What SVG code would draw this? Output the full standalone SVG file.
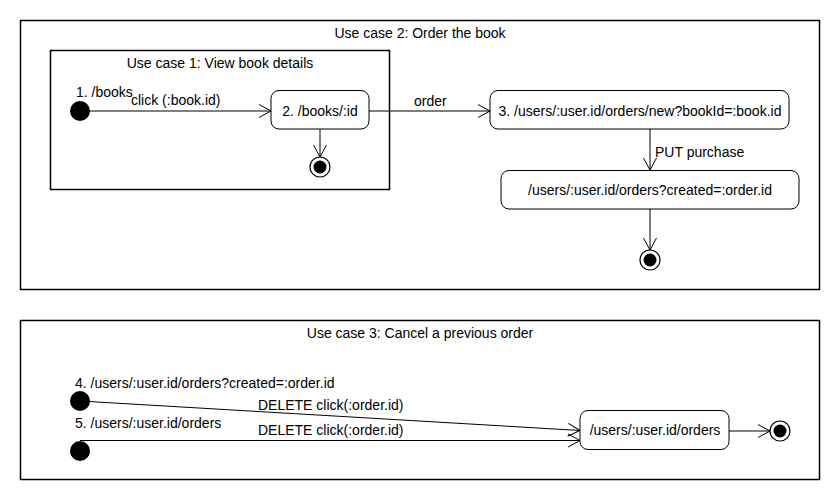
<svg xmlns="http://www.w3.org/2000/svg" width="840" height="500" viewBox="0 0 840 500">
<style>
text{font-family:"Liberation Sans",Arial,sans-serif;font-size:14px;fill:#000}
.c{text-anchor:middle}
.frame{fill:none;stroke:#000;stroke-width:1.5}
.node{fill:#fff;stroke:#000;stroke-width:1}
.edge{fill:none;stroke:#000;stroke-width:1;marker-end:url(#arr)}
.init{fill:#000}
.fo{fill:#fff;stroke:#000;stroke-width:1.2}
.fi{fill:#000}
</style>
<defs>
<marker id="arr" markerUnits="userSpaceOnUse" markerWidth="14" markerHeight="15" refX="12" refY="7" orient="auto" overflow="visible">
<path d="M0,0.5 L12,7 L0,13.5" fill="none" stroke="#000" stroke-width="1"/>
</marker>
</defs>
<rect width="840" height="500" fill="#fff"/>
<g id="uc2">
<rect class="frame" x="20.5" y="20.5" width="799" height="269"/>
<text class="c" x="420" y="38">Use case 2: Order the book</text>
</g>
<g id="uc1">
<rect class="frame" x="50.5" y="50.5" width="339" height="139"/>
<text class="c" x="220" y="68">Use case 1: View book details</text>
</g>
<g id="uc3">
<rect class="frame" x="20.5" y="320.5" width="799" height="159"/>
<text class="c" x="420" y="338">Use case 3: Cancel a previous order</text>
</g>
<g id="connectors">
<line class="edge" x1="80" y1="111" x2="271" y2="111"/>
<line class="edge" x1="320" y1="129" x2="320" y2="157"/>
<line class="edge" x1="369" y1="111" x2="490" y2="111"/>
<line class="edge" x1="650" y1="129" x2="650" y2="170"/>
<line class="edge" x1="650" y1="209" x2="650" y2="250"/>
<line class="edge" x1="80" y1="401" x2="580" y2="430.5"/>
<line class="edge" x1="80" y1="440.5" x2="580" y2="440.5"/>
<line class="edge" x1="729" y1="431" x2="770" y2="431"/>
<text x="131" y="105">click (:book.id)</text>
<text x="414" y="106">order</text>
<text x="655" y="157">PUT purchase</text>
<text x="258" y="410">DELETE click(:order.id)</text>
<text x="258" y="435">DELETE click(:order.id)</text>
</g>
<g id="start1">
<circle class="init" cx="80" cy="111" r="10"/>
<text x="76" y="97">1. /books</text>
</g>
<g id="node2">
<rect class="node" x="271" y="90.5" width="98" height="38.5" rx="8"/>
<text class="c" x="320" y="116">2. /books/:id</text>
</g>
<g id="end1">
<circle class="fo" cx="320" cy="167" r="10"/>
<circle class="fi" cx="320" cy="167" r="6.5"/>
</g>
<g id="node3">
<rect class="node" x="490" y="90.5" width="299" height="38.5" rx="8"/>
<text class="c" x="640" y="116">3. /users/:user.id/orders/new?bookId=:book.id</text>
</g>
<g id="node4">
<rect class="node" x="501" y="170.5" width="298" height="38.5" rx="8"/>
<text class="c" x="650" y="195">/users/:user.id/orders?created=:order.id</text>
</g>
<g id="end2">
<circle class="fo" cx="650" cy="260" r="10"/>
<circle class="fi" cx="650" cy="260" r="6.5"/>
</g>
<g id="start4">
<circle class="init" cx="80" cy="401" r="10"/>
<text x="75" y="388">4. /users/:user.id/orders?created=:order.id</text>
</g>
<g id="start5">
<circle class="init" cx="80" cy="451" r="10"/>
<text x="75" y="428">5. /users/:user.id/orders</text>
</g>
<g id="node5">
<rect class="node" x="580" y="410.5" width="149" height="39" rx="8"/>
<text class="c" x="655" y="435">/users/:user.id/orders</text>
</g>
<g id="end3">
<circle class="fo" cx="780" cy="431" r="10"/>
<circle class="fi" cx="780" cy="431" r="6.5"/>
</g>
</svg>
